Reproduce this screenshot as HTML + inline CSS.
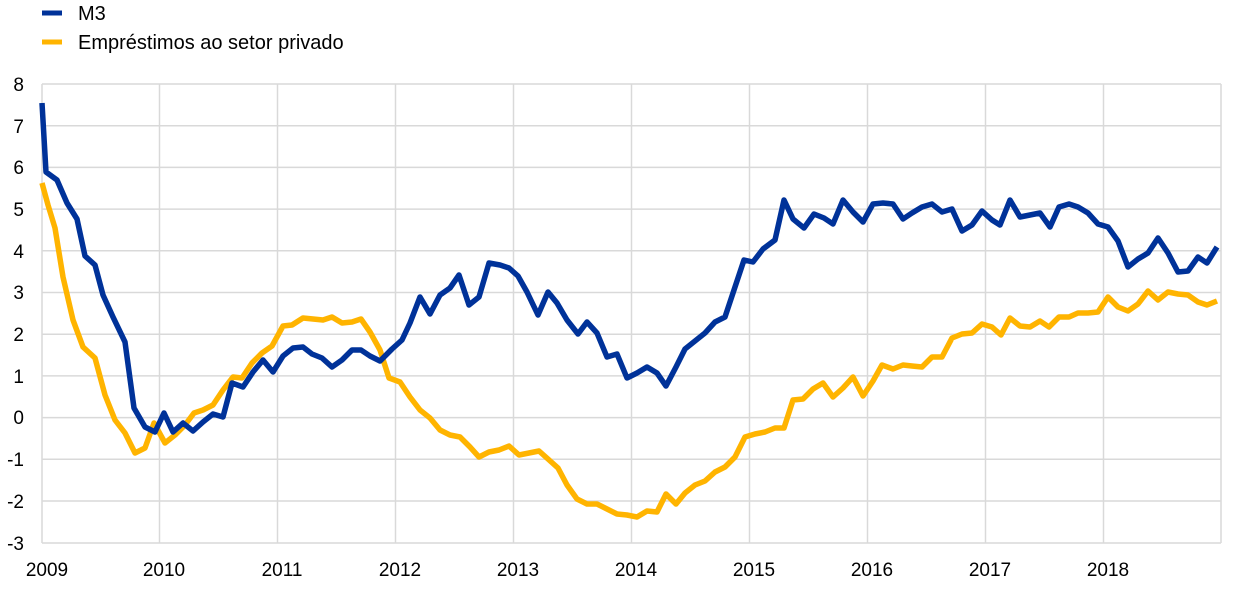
<!DOCTYPE html>
<html><head><style>body{margin:0;background:#fff}svg{display:block}text{font-family:"Liberation Sans",sans-serif;font-size:19px;fill:#000}</style></head><body>
<svg width="1240" height="590" viewBox="0 0 1240 590">
<g stroke="#d9d9d9" stroke-width="1.5">
<line x1="42" y1="84" x2="1221" y2="84"/><line x1="42" y1="125.7" x2="1221" y2="125.7"/><line x1="42" y1="167.4" x2="1221" y2="167.4"/><line x1="42" y1="209.1" x2="1221" y2="209.1"/><line x1="42" y1="250.8" x2="1221" y2="250.8"/><line x1="42" y1="292.5" x2="1221" y2="292.5"/><line x1="42" y1="334.2" x2="1221" y2="334.2"/><line x1="42" y1="375.9" x2="1221" y2="375.9"/><line x1="42" y1="417.6" x2="1221" y2="417.6"/><line x1="42" y1="459.3" x2="1221" y2="459.3"/><line x1="42" y1="501" x2="1221" y2="501"/><line x1="42" y1="543" x2="1221" y2="543"/>
<line x1="42" y1="84" x2="42" y2="543"/><line x1="159.5" y1="84" x2="159.5" y2="543"/><line x1="277.5" y1="84" x2="277.5" y2="543"/><line x1="395.5" y1="84" x2="395.5" y2="543"/><line x1="513.5" y1="84" x2="513.5" y2="543"/><line x1="631.5" y1="84" x2="631.5" y2="543"/><line x1="749.5" y1="84" x2="749.5" y2="543"/><line x1="867.5" y1="84" x2="867.5" y2="543"/><line x1="985.5" y1="84" x2="985.5" y2="543"/><line x1="1103.5" y1="84" x2="1103.5" y2="543"/><line x1="1221" y1="84" x2="1221" y2="543"/>
</g>
<g text-anchor="end">
<text x="24" y="91">8</text><text x="24" y="133">7</text><text x="24" y="174">6</text><text x="24" y="216">5</text><text x="24" y="258">4</text><text x="24" y="299">3</text><text x="24" y="341">2</text><text x="24" y="383">1</text><text x="24" y="424">0</text><text x="24" y="466">-1</text><text x="24" y="508">-2</text><text x="24" y="550">-3</text>
</g>
<g text-anchor="middle">
<text x="47" y="576">2009</text><text x="164" y="576">2010</text><text x="282" y="576">2011</text><text x="400" y="576">2012</text><text x="518" y="576">2013</text><text x="636" y="576">2014</text><text x="754" y="576">2015</text><text x="872" y="576">2016</text><text x="990" y="576">2017</text><text x="1108" y="576">2018</text>
</g>
<polyline fill="none" stroke="#ffb400" stroke-width="5.5" stroke-linejoin="round" points="42,183 48,205 55,228 63,277 73,320 83,347 95,358 105,395 115,420 125,433 135,453 145,448 154,423 165,443 175,435 185,425 194,413 203,410 213,405 223,390 233,377 242,378 252,363 262,353 272,346 283,326 292,325 303,318 313,319 323,320 332,317 342,323 352,322 361,319 370,332 380,350 389,378 400,382 410,397 420,410 430,418 440,430 450,435 460,437 470,447 479,457 489,452 499,450 509,446 519,455 529,453 539,451 548,459 558,468 567,485 577,499 587,504 597,504 607,509 617,514 627,515 637,517 647,511 657,512 666,494 676,504 685,493 695,485 705,481 715,472 725,467 735,457 745,437 755,434 765,432 775,428 784,428 793,400 803,399 813,389 823,383 833,397 843,388 853,377 863,396 873,381 882,365 893,369 903,365 912,366 922,367 932,357 942,357 952,338 962,334 972,333 982,324 992,327 1001,335 1010,318 1020,326 1030,327 1040,321 1049,327 1059,317 1069,317 1078,313 1088,313 1098,312 1108,297 1118,307 1128,311 1138,304 1148,291 1158,300 1168,292 1178,294 1188,295 1198,302 1207,305 1217,301"/>
<polyline fill="none" stroke="#003299" stroke-width="5.5" stroke-linejoin="round" points="42,103 46,172 57,180 67,203 77,219 85,256 95,265 103,295 113,317 125,342 134,408 145,427 155,432 164,413 173,432 183,423 193,431 203,422 213,414 223,417 232,383 243,387 253,372 263,360 273,372 283,356 293,348 303,347 312,354 322,358 332,367 342,360 352,350 361,350 370,356 380,361 392,349 402,340 410,323 420,297 430,314 440,295 450,288 459,275 469,305 479,297 489,263 500,265 509,268 518,276 527,292 538,315 548,292 557,303 567,320 578,334 587,322 597,333 607,357 617,354 627,378 637,373 647,367 657,373 666,386 676,367 685,349 695,341 705,333 715,322 725,317 734,290 744,260 753,262 763,249 775,240 784,200 793,219 804,228 814,214 824,218 833,224 843,200 853,212 863,222 873,204 883,203 893,204 903,219 912,213 922,207 932,204 942,212 952,209 962,231 972,225 982,211 992,220 1000,225 1010,200 1020,217 1030,215 1040,213 1050,227 1059,207 1069,204 1078,207 1088,213 1098,224 1108,227 1118,241 1128,267 1138,259 1148,253 1158,238 1168,253 1178,272 1188,271 1198,257 1207,263 1217,247"/>
<line x1="42" y1="13" x2="62" y2="13" stroke="#003299" stroke-width="5"/>
<line x1="42" y1="42" x2="62" y2="42" stroke="#ffb400" stroke-width="5"/>
<text x="78" y="20" style="font-size:20px">M3</text>
<text x="78" y="49" style="font-size:20px">Empréstimos ao setor privado</text>
</svg>
</body></html>
